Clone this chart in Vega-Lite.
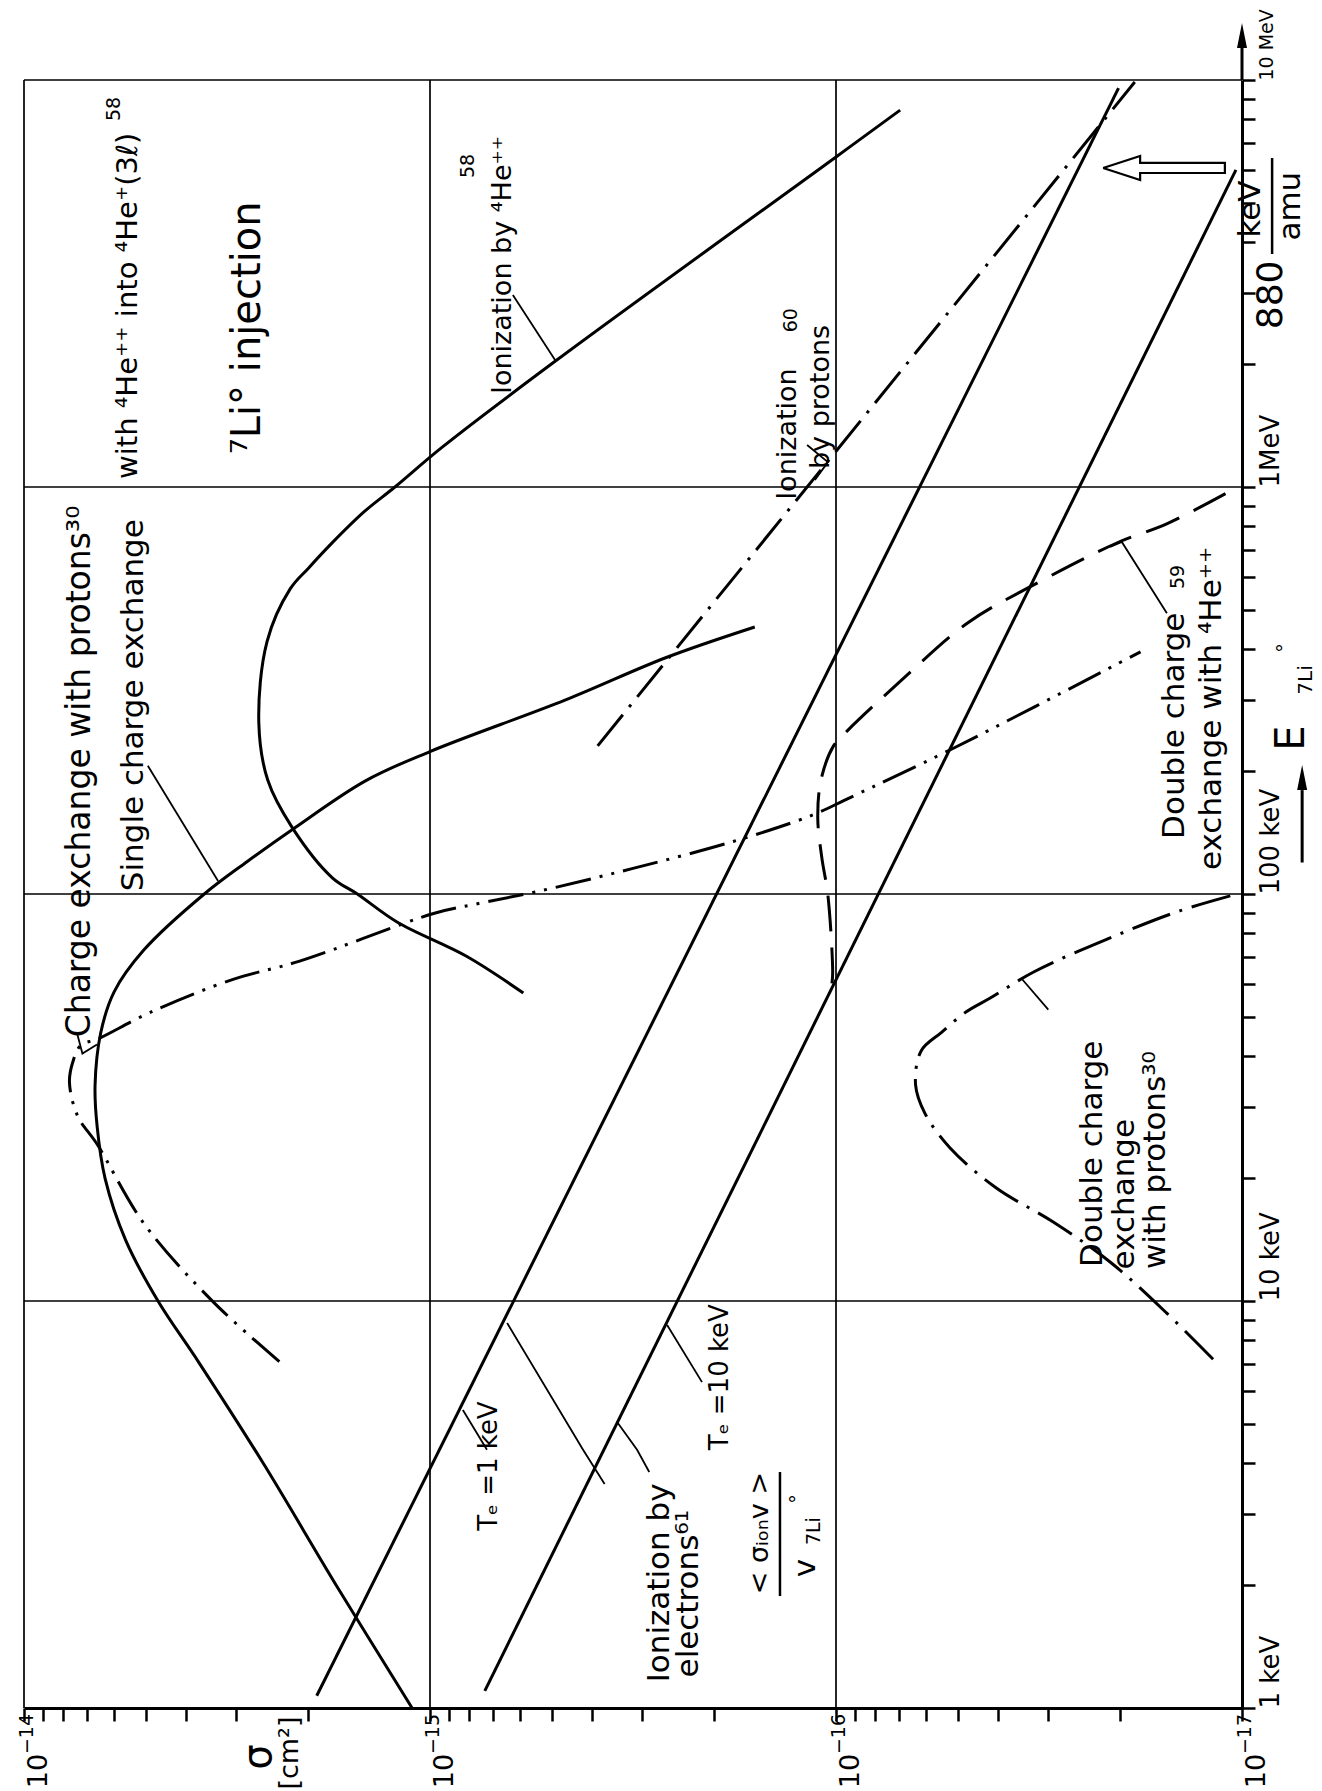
{
"$schema":"https://vega.github.io/schema/vega-lite/v6.json",
"width":1218,"height":1628,
"autosize":{"type":"none"},
"padding":{"left":24,"top":80,"right":80,"bottom":83},
"background":"white",
"config":{"view":{"stroke":null},"font":"DejaVu Sans","text":{"font":"DejaVu Sans","color":"black"}},
"datasets":{
"curves":[
{"c":"ionHe","i":1,"s":5.89e-16,"e":57.1},{"c":"ionHe","i":2,"s":8.13e-16,"e":70.3},{"c":"ionHe","i":3,"s":1.20e-15,"e":85.1},{"c":"ionHe","i":4,"s":1.51e-15,"e":100},{"c":"ionHe","i":5,"s":1.74e-15,"e":109.6},{"c":"ionHe","i":6,"s":2.19e-15,"e":146.2},{"c":"ionHe","i":7,"s":2.51e-15,"e":190.5},{"c":"ionHe","i":8,"s":2.64e-15,"e":263},{"c":"ionHe","i":9,"s":2.52e-15,"e":417},{"c":"ionHe","i":10,"s":2.21e-15,"e":562},{"c":"ionHe","i":11,"s":1.995e-15,"e":631},{"c":"ionHe","i":12,"s":1.74e-15,"e":730},{"c":"ionHe","i":13,"s":1.45e-15,"e":871},{"c":"ionHe","i":14,"s":1.22e-15,"e":1000},{"c":"ionHe","i":15,"s":9.33e-16,"e":1253},{"c":"ionHe","i":16,"s":4.90e-16,"e":2042},{"c":"ionHe","i":17,"s":1.00e-16,"e":6471},{"c":"ionHe","i":18,"s":6.95e-17,"e":8433},
{"c":"singleCX","i":1,"s":1.107e-15,"e":1},{"c":"singleCX","i":2,"s":1.698e-15,"e":1.995},{"c":"singleCX","i":3,"s":2.57e-15,"e":3.981},{"c":"singleCX","i":4,"s":3.715e-15,"e":7.079},{"c":"singleCX","i":5,"s":4.677e-15,"e":10},{"c":"singleCX","i":6,"s":5.623e-15,"e":14.13},{"c":"singleCX","i":7,"s":6.31e-15,"e":19.95},{"c":"singleCX","i":8,"s":6.607e-15,"e":26.92},{"c":"singleCX","i":9,"s":6.683e-15,"e":33.88},{"c":"singleCX","i":10,"s":6.471e-15,"e":45.6},{"c":"singleCX","i":11,"s":5.998e-15,"e":57.5},{"c":"singleCX","i":12,"s":5.07e-15,"e":72.8},{"c":"singleCX","i":13,"s":3.597e-15,"e":100},{"c":"singleCX","i":14,"s":2.818e-15,"e":120.2},{"c":"singleCX","i":15,"s":2.173e-15,"e":144.5},{"c":"singleCX","i":16,"s":1.442e-15,"e":189.7},{"c":"singleCX","i":17,"s":1.0e-15,"e":223.9},{"c":"singleCX","i":18,"s":4.634e-16,"e":299.9},{"c":"singleCX","i":19,"s":2.618e-16,"e":381.1},{"c":"singleCX","i":20,"s":1.585e-16,"e":452.9},
{"c":"teA","i":1,"s":1.901e-15,"e":1.072},{"c":"teA","i":2,"s":2.014e-17,"e":9550},
{"c":"teB","i":1,"s":7.328e-16,"e":1.102},{"c":"teB","i":2,"s":1.035e-17,"e":6012},
{"c":"cxProt","i":1,"s":2.35e-15,"e":7.1},{"c":"cxProt","i":2,"s":3.42e-15,"e":9.95},{"c":"cxProt","i":3,"s":5.07e-15,"e":15.52},{"c":"cxProt","i":4,"s":6.592e-15,"e":24.2},{"c":"cxProt","i":5,"s":7.379e-15,"e":28.5},{"c":"cxProt","i":6,"s":7.727e-15,"e":34.4},{"c":"cxProt","i":7,"s":7.586e-15,"e":38.6},{"c":"cxProt","i":8,"s":7.244e-15,"e":42.5},{"c":"cxProt","i":9,"s":6.592e-15,"e":44.0},{"c":"cxProt","i":10,"s":4.887e-15,"e":51.2},{"c":"cxProt","i":11,"s":3.055e-15,"e":61.7},{"c":"cxProt","i":12,"s":2.094e-15,"e":68.4},{"c":"cxProt","i":13,"s":9.75e-16,"e":89.7},{"c":"cxProt","i":14,"s":7.816e-16,"e":94.2},{"c":"cxProt","i":15,"s":5.395e-16,"e":101.6},{"c":"cxProt","i":16,"s":3.162e-16,"e":115.6},{"c":"cxProt","i":17,"s":1.791e-16,"e":134.6},{"c":"cxProt","i":18,"s":1.148e-16,"e":156},{"c":"cxProt","i":19,"s":9.226e-17,"e":172.6},{"c":"cxProt","i":20,"s":5.212e-17,"e":226.5},{"c":"cxProt","i":21,"s":1.778e-17,"e":393.6},
{"c":"ionProt","i":1,"s":3.864e-16,"e":231.2},{"c":"ionProt","i":2,"s":1.837e-17,"e":9886},
{"c":"dcxHe","i":1,"s":1.023e-16,"e":60.3},{"c":"dcxHe","i":2,"s":1.019e-16,"e":64.3},{"c":"dcxHe","i":3,"s":1.047e-16,"e":99.3},{"c":"dcxHe","i":4,"s":1.084e-16,"e":123},{"c":"dcxHe","i":5,"s":1.109e-16,"e":153.8},{"c":"dcxHe","i":6,"s":1.089e-16,"e":190.5},{"c":"dcxHe","i":7,"s":1.014e-16,"e":231.2},{"c":"dcxHe","i":8,"s":9.354e-17,"e":252.4},{"c":"dcxHe","i":9,"s":6.918e-17,"e":334.2},{"c":"dcxHe","i":10,"s":4.742e-17,"e":463.4},{"c":"dcxHe","i":11,"s":3.251e-17,"e":575.4},{"c":"dcxHe","i":12,"s":2.028e-17,"e":729.5},{"c":"dcxHe","i":13,"s":1.528e-17,"e":812.8},{"c":"dcxHe","i":14,"s":1.047e-17,"e":988.6},
{"c":"dcxProt","i":1,"s":1.178e-17,"e":7.19},{"c":"dcxProt","i":2,"s":1.528e-17,"e":9.31},{"c":"dcxProt","i":3,"s":2.113e-17,"e":12.47},{"c":"dcxProt","i":4,"s":2.917e-17,"e":15.63},{"c":"dcxProt","i":5,"s":4.036e-17,"e":18.97},{"c":"dcxProt","i":6,"s":5.236e-17,"e":23.77},{"c":"dcxProt","i":7,"s":6.039e-17,"e":28.91},{"c":"dcxProt","i":8,"s":6.368e-17,"e":33.96},{"c":"dcxProt","i":9,"s":6.166e-17,"e":41.21},{"c":"dcxProt","i":10,"s":5.495e-17,"e":45.71},{"c":"dcxProt","i":11,"s":4.786e-17,"e":51.29},{"c":"dcxProt","i":12,"s":4.159e-17,"e":55.59},{"c":"dcxProt","i":13,"s":3.251e-17,"e":64.42},{"c":"dcxProt","i":14,"s":2.148e-17,"e":77.45},{"c":"dcxProt","i":15,"s":1.419e-17,"e":91.0},{"c":"dcxProt","i":16,"s":1.028e-17,"e":100}
],
"pointers":[
{"c":"pSingle","i":1,"s":3.327e-15,"e":107.6},{"c":"pSingle","i":2,"s":4.955e-15,"e":206.5},
{"c":"pIonHe","i":1,"s":4.92e-16,"e":2051},{"c":"pIonHe","i":2,"s":6.25e-16,"e":2965},
{"c":"pCX","i":1,"s":7.41e-15,"e":45.7},{"c":"pCX","i":2,"s":7.18e-15,"e":40.55},{"c":"pCX","i":3,"s":6.61e-15,"e":42.66},
{"c":"pIonProt","i":1,"s":1.127e-16,"e":1040},{"c":"pIonProt","i":2,"s":1.047e-16,"e":1151},{"c":"pIonProt","i":3,"s":1.178e-16,"e":1268},
{"c":"pDcxHe","i":1,"s":2.113e-17,"e":712.9},{"c":"pDcxHe","i":2,"s":1.977e-17,"e":732.8},{"c":"pDcxHe","i":3,"s":1.531e-17,"e":489.8},
{"c":"pTe1","i":1,"s":8.30e-16,"e":5.40},{"c":"pTe1","i":2,"s":7.24e-16,"e":4.31},
{"c":"pTe10","i":1,"s":2.606e-16,"e":8.73},{"c":"pTe10","i":2,"s":2.138e-16,"e":6.32},
{"c":"pElA","i":1,"s":6.457e-16,"e":8.83},{"c":"pElA","i":2,"s":4.198e-16,"e":4.31},{"c":"pElA","i":3,"s":3.715e-16,"e":3.55},
{"c":"pElB","i":1,"s":3.443e-16,"e":5.01},{"c":"pElB","i":2,"s":3.09e-16,"e":4.31},{"c":"pElB","i":3,"s":2.884e-16,"e":3.80},
{"c":"pDcxP","i":1,"s":3.475e-17,"e":61.66},{"c":"pDcxP","i":2,"s":3.0e-17,"e":52}
],
"hollow":[
{"i":1,"s":2.198e-17,"e":6079},{"i":2,"s":1.782e-17,"e":6507},{"i":3,"s":1.782e-17,"e":6254},{"i":4,"s":1.102e-17,"e":6254},{"i":5,"s":1.102e-17,"e":5908},{"i":6,"s":1.782e-17,"e":5908},{"i":7,"s":1.782e-17,"e":5679},{"i":8,"s":2.198e-17,"e":6079}
],
"vgrid":[{"s":1e-14,"e":1,"e2":10000},{"s":1e-15,"e":1,"e2":10000},{"s":1e-16,"e":1,"e2":10000}],
"hgrid":[{"s":1e-14,"s2":1e-17,"e":10},{"s":1e-14,"s2":1e-17,"e":100},{"s":1e-14,"s2":1e-17,"e":1000},{"s":1e-14,"s2":1e-17,"e":10000}],
"axisArrows":[{"s":1e-17,"e":10000,"e2":11990},{"s":7.11e-18,"e":119.5,"e2":180}],
"arrowHeads":[{"s":1e-17,"e":12680},{"s":7.11e-18,"e":190.5}],
"fracBars":[{"s":8.43e-18,"e":3736,"e2":6431},{"s":1.374e-16,"e":1.884,"e2":3.80}],
"l33":[{"t":"Charge exchange with protons³⁰","s":7.28e-15,"e":200}],
"l31":[
{"t":"Single charge exchange","s":5.36e-15,"e":291},
{"t":"Double charge","s":1.462e-17,"e":259},
{"t":"exchange with ⁴He⁺⁺","s":1.186e-17,"e":286},
{"t":"Double charge","s":2.33e-17,"e":23.0},
{"t":"exchange","s":1.94e-17,"e":18.3},
{"t":"with protons³⁰","s":1.63e-17,"e":22.2},
{"t":"Ionization by","s":2.71e-16,"e":2.03},
{"t":"electrons⁶¹","s":2.30e-16,"e":1.91},
{"t":"keV","s":9.50e-18,"e":4819},
{"t":"amu","s":7.57e-18,"e":4898},
{"t":"v","s":1.186e-16,"e":2.208}
],
"l36":[{"t":"880","s":8.49e-18,"e":2965}],
"l29":[{"t":"with ⁴He⁺⁺ into ⁴He⁺(3ℓ)","s":5.55e-15,"e":2786}],
"l27":[
{"t":"Ionization by ⁴He⁺⁺","s":6.61e-16,"e":3511},
{"t":"Ionization","s":1.312e-16,"e":1349},
{"t":"by protons","s":1.09e-16,"e":1664},
{"t":"< σᵢₒₙv >","s":1.538e-16,"e":2.69},
{"t":"[cm²]","s":2.213e-15,"e":0.775},
{"t":"10","s":9.18e-15,"e":0.70},{"t":"10","s":9.18e-16,"e":0.70},{"t":"10","s":9.18e-17,"e":0.70},{"t":"10","s":9.18e-18,"e":0.70}
],
"l26":[
{"t":"Tₑ =1 keV","s":7.16e-16,"e":3.93},
{"t":"Tₑ =10 keV","s":1.93e-16,"e":6.5}
],
"sups":[
{"t":"58","s":8.05e-16,"e":6152},{"t":"60","s":1.291e-16,"e":2570},{"t":"59","s":1.439e-17,"e":601},{"t":"58","s":6.0e-15,"e":8490},{"t":"°","s":7.83e-18,"e":402},{"t":"7Li","s":1.132e-16,"e":2.72},{"t":"°","s":1.242e-16,"e":3.26},
{"t":"−14","s":9.83e-15,"e":0.863},{"t":"−15","s":9.83e-16,"e":0.863},{"t":"−16","s":9.83e-17,"e":0.863},{"t":"−17","s":9.83e-18,"e":0.863}
],
"subs":[{"t":"7Li","s":6.95e-18,"e":335.7}],
"big":[{"t":"⁷Li° injection","s":2.81e-15,"e":2460},{"t":"σ","s":2.636e-15,"e":0.758},{"t":"E","s":7.53e-18,"e":241.6}]
},
"encoding":{
"x":{"field":"s","type":"quantitative","scale":{"type":"log","domain":[1e-17,1e-14],"reverse":true,"nice":false,"zero":false},
"axis":{"orient":"bottom","values":[1e-17,2e-17,3e-17,4e-17,5e-17,6e-17,7e-17,8e-17,9e-17,1e-16,2e-16,3e-16,4e-16,5e-16,6e-16,7e-16,8e-16,9e-16,1e-15,2e-15,3e-15,4e-15,5e-15,6e-15,7e-15,8e-15,9e-15,1e-14],
"labels":false,
"tickColor":"black","tickSize":13,"tickWidth":2.5,"domainColor":"black","domainWidth":3,"grid":false,"title":null}},
"y":{"field":"e","type":"quantitative","scale":{"type":"log","domain":[1,10000],"nice":false,"zero":false},
"axis":{"orient":"right","values":[1,2,3,4,5,6,7,8,9,10,20,30,40,50,60,70,80,90,100,200,300,400,500,600,700,800,900,1000,2000,3000,4000,5000,6000,7000,8000,9000,10000],
"labelExpr":"datum.value == 1 ? '1 keV' : datum.value == 10 ? '10 keV' : datum.value == 100 ? '100 keV' : datum.value == 1000 ? '1MeV' : datum.value == 10000 ? '10 MeV' : ''",
"labelAngle":270,"labelAlign":"left","labelBaseline":"top","labelFontSize":{"condition":{"test":"datum.value == 10000","value":19},"value":26},"labelFont":"DejaVu Sans","labelColor":"black","labelPadding":2,"labelOverlap":false,"labelFlush":false,"labelBound":false,
"tickColor":"black","tickSize":13,"tickWidth":2.5,"domainColor":"black","domainWidth":3,"grid":false,"title":null}}
},
"layer":[
{"data":{"name":"vgrid"},"mark":{"type":"rule","color":"black","strokeWidth":1.7},"encoding":{"y2":{"field":"e2"}}},
{"data":{"name":"hgrid"},"mark":{"type":"rule","color":"black","strokeWidth":1.7},"encoding":{"x2":{"field":"s2"}}},
{"data":{"name":"curves"},"transform":[{"filter":{"field":"c","oneOf":["ionHe","singleCX","teA","teB"]}}],"mark":{"type":"line","color":"black","strokeWidth":3,"interpolate":"catmull-rom"},"encoding":{"detail":{"field":"c"},"order":{"field":"i","type":"quantitative"}}},
{"data":{"name":"curves"},"transform":[{"filter":{"field":"c","equal":"cxProt"}}],"mark":{"type":"line","color":"black","strokeWidth":3,"interpolate":"catmull-rom","strokeDash":[36,9,3,9,3,9]},"encoding":{"detail":{"field":"c"},"order":{"field":"i","type":"quantitative"}}},
{"data":{"name":"curves"},"transform":[{"filter":{"field":"c","oneOf":["ionProt","dcxProt"]}}],"mark":{"type":"line","color":"black","strokeWidth":3,"interpolate":"catmull-rom","strokeDash":[40,10,3,10]},"encoding":{"detail":{"field":"c"},"order":{"field":"i","type":"quantitative"}}},
{"data":{"name":"curves"},"transform":[{"filter":{"field":"c","equal":"dcxHe"}}],"mark":{"type":"line","color":"black","strokeWidth":3,"interpolate":"catmull-rom","strokeDash":[36,16]},"encoding":{"detail":{"field":"c"},"order":{"field":"i","type":"quantitative"}}},
{"data":{"name":"pointers"},"mark":{"type":"line","color":"black","strokeWidth":1.8},"encoding":{"detail":{"field":"c"},"order":{"field":"i","type":"quantitative"}}},
{"data":{"name":"hollow"},"mark":{"type":"line","color":"black","strokeWidth":2.2},"encoding":{"order":{"field":"i","type":"quantitative"}}},
{"data":{"name":"axisArrows"},"mark":{"type":"rule","color":"black","strokeWidth":3},"encoding":{"y2":{"field":"e2"}}},
{"data":{"name":"arrowHeads"},"mark":{"type":"point","shape":"M -1 2 L 1 2 L 0 -3 Z","size":100,"filled":true,"color":"black","opacity":1},"encoding":{}},
{"data":{"name":"fracBars"},"mark":{"type":"rule","color":"black","strokeWidth":2.5},"encoding":{"y2":{"field":"e2"}}},
{"data":{"name":"l33"},"mark":{"type":"text","angle":270,"align":"center","baseline":"middle","fontSize":33},"encoding":{"text":{"field":"t"}}},
{"data":{"name":"l31"},"mark":{"type":"text","angle":270,"align":"center","baseline":"middle","fontSize":31},"encoding":{"text":{"field":"t"}}},
{"data":{"name":"l36"},"mark":{"type":"text","angle":270,"align":"center","baseline":"middle","fontSize":36},"encoding":{"text":{"field":"t"}}},
{"data":{"name":"l29"},"mark":{"type":"text","angle":270,"align":"center","baseline":"middle","fontSize":29},"encoding":{"text":{"field":"t"}}},
{"data":{"name":"l27"},"mark":{"type":"text","angle":270,"align":"center","baseline":"middle","fontSize":27},"encoding":{"text":{"field":"t"}}},
{"data":{"name":"l26"},"mark":{"type":"text","angle":270,"align":"center","baseline":"middle","fontSize":26},"encoding":{"text":{"field":"t"}}},
{"data":{"name":"sups"},"mark":{"type":"text","angle":270,"align":"center","baseline":"middle","fontSize":19},"encoding":{"text":{"field":"t"}}},
{"data":{"name":"subs"},"mark":{"type":"text","angle":270,"align":"center","baseline":"middle","fontSize":20},"encoding":{"text":{"field":"t"}}},
{"data":{"name":"big"},"mark":{"type":"text","angle":270,"align":"center","baseline":"middle","fontSize":40},"encoding":{"text":{"field":"t"}}}
]
}
